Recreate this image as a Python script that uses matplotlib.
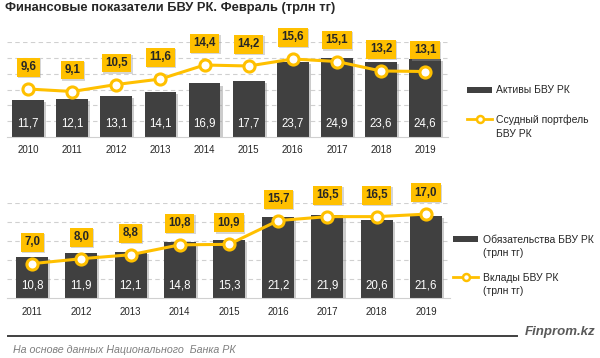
import matplotlib
matplotlib.use("Agg")
import matplotlib.pyplot as plt
import matplotlib.patheffects as pe
from matplotlib.patches import Rectangle
from matplotlib.lines import Line2D

plt.rcParams['font.family'] = ['Liberation Sans', 'DejaVu Sans']

# ---- data ----
years_top = ["2010", "2011", "2012", "2013", "2014", "2015", "2016", "2017", "2018", "2019"]
assets = [11.7, 12.1, 13.1, 14.1, 16.9, 17.7, 23.7, 24.9, 23.6, 24.6]
loans = [9.6, 9.1, 10.5, 11.6, 14.4, 14.2, 15.6, 15.1, 13.2, 13.1]

years_bot = ["2011", "2012", "2013", "2014", "2015", "2016", "2017", "2018", "2019"]
liabilities = [10.8, 11.9, 12.1, 14.8, 15.3, 21.2, 21.9, 20.6, 21.6]
deposits = [7.0, 8.0, 8.8, 10.8, 10.9, 15.7, 16.5, 16.5, 17.0]

title = "Финансовые показатели БВУ РК. Февраль (трлн тг)"
leg_top = ["Активы БВУ РК", "Ссудный портфель\nБВУ РК"]
leg_bot = ["Обязательства БВУ РК\n(трлн тг)", "Вклады БВУ РК\n(трлн тг)"]
source = "На основе данных Национального  Банка РК"
brand = "Finprom.kz"

W, H = 600, 358
BAR = "#404040"
GOLD = "#FFC000"
TXT = "#262626"

fig = plt.figure(figsize=(W / 100, H / 100), dpi=100)


def px_axes(l, r, t, b):
    return fig.add_axes([l / W, 1 - b / H, (r - l) / W, (b - t) / H])


def fmt(v):
    return f"{v:.1f}".replace(".", ",")


def panel(ax, cats, bars, line, ymax1, ymax2, xl, xr, width):
    x = list(range(len(cats)))
    ax.set_xlim(xl, xr)
    ax.set_ylim(0, ymax1)
    for g in range(5, int(ymax1) + 1, 5):
        ax.axhline(g, color="#d0d0d0", lw=0.8, ls=(0, (4, 3)), zorder=0)
    bs = ax.bar(x, bars, width=width, color=BAR, zorder=2)
    for b in bs:
        b.set_path_effects([pe.SimplePatchShadow(offset=(1.5, -1.5), shadow_rgbFace="#9a9a9a", alpha=0.5), pe.Normal()])
    for xi, v in zip(x, bars):
        ax.annotate(fmt(v), (xi, 0), xytext=(0, 9.5), textcoords="offset points",
                    ha="center", va="center", color="white", fontsize=8.3, zorder=5)
    for s in ["top", "left", "right"]:
        ax.spines[s].set_visible(False)
    ax.spines["bottom"].set_color("#d0d0d0")
    ax.set_yticks([])
    ax.set_xticks(x)
    ax.set_xticklabels(cats, fontsize=7, color=TXT)
    ax.tick_params(axis="x", length=0, pad=6)

    ax2 = ax.twinx()
    ax2.set_ylim(0, ymax2)
    ax2.set_yticks([])
    for s in ax2.spines.values():
        s.set_visible(False)
    ax2.plot(x, line, color=GOLD, lw=2.2, marker="o", ms=8, mfc="white", mec=GOLD, mew=2.2, zorder=4)
    for xi, v in zip(x, line):
        t = ax2.annotate(fmt(v), (xi, v), xytext=(0, 15.5), textcoords="offset points",
                         ha="center", va="center", fontsize=8.3, fontweight="bold", color=TXT,
                         bbox=dict(boxstyle="square,pad=0.3", fc=GOLD, ec="none"), zorder=6)
        t.get_bbox_patch().set_path_effects([pe.SimplePatchShadow(offset=(1, -1), shadow_rgbFace="#999999", alpha=0.4), pe.Normal()])


ax_top = px_axes(7, 448, 42, 137)
panel(ax_top, years_top, assets, loans, 30, 95 / 5.0, -0.48, 9.52, 0.72)

ax_bot = px_axes(7, 450, 202.7, 298.3)
panel(ax_bot, years_bot, liabilities, deposits, 25, 95.6 / 4.95, -0.51, 8.49, 0.65)

# overlay for decorations
ov = fig.add_axes([0, 0, 1, 1], zorder=10)
ov.set_xlim(0, W)
ov.set_ylim(H, 0)
ov.axis("off")
ov.patch.set_alpha(0)

ov.text(5, 8, title, fontsize=9.3, fontweight="bold", color=TXT, ha="left", va="center")

# top legend
ov.add_patch(Rectangle((467, 87), 25, 6, fc=BAR, ec="none"))
ov.text(496, 90, leg_top[0], fontsize=7.5, color=TXT, ha="left", va="center")
ov.add_line(Line2D([467, 492], [119, 119], color=GOLD, lw=2))
ov.plot([480], [119], marker="o", ms=5, mfc="white", mec=GOLD, mew=1.8)
ov.text(496, 126.5, leg_top[1], fontsize=7.5, color=TXT, ha="left", va="center", linespacing=1.45)

# bottom legend
ov.add_patch(Rectangle((453, 236), 25, 6, fc=BAR, ec="none"))
ov.text(483, 246.5, leg_bot[0], fontsize=7.5, color=TXT, ha="left", va="center", linespacing=1.45)
ov.add_line(Line2D([453, 478], [277, 277], color=GOLD, lw=2))
ov.plot([466], [277], marker="o", ms=5, mfc="white", mec=GOLD, mew=1.8)
ov.text(483, 284.5, leg_bot[1], fontsize=7.5, color=TXT, ha="left", va="center", linespacing=1.45)

# footer
ov.add_line(Line2D([8, 517], [335.7, 335.7], color="#404040", lw=1.4))
ov.text(595, 332, brand, fontsize=9.5, fontweight="bold", fontstyle="italic", color="#595959", ha="right", va="center")
ov.text(13, 350, source, fontsize=7.7, fontstyle="italic", color="#7f7f7f", ha="left", va="center")

fig.savefig("out.png", dpi=100)
